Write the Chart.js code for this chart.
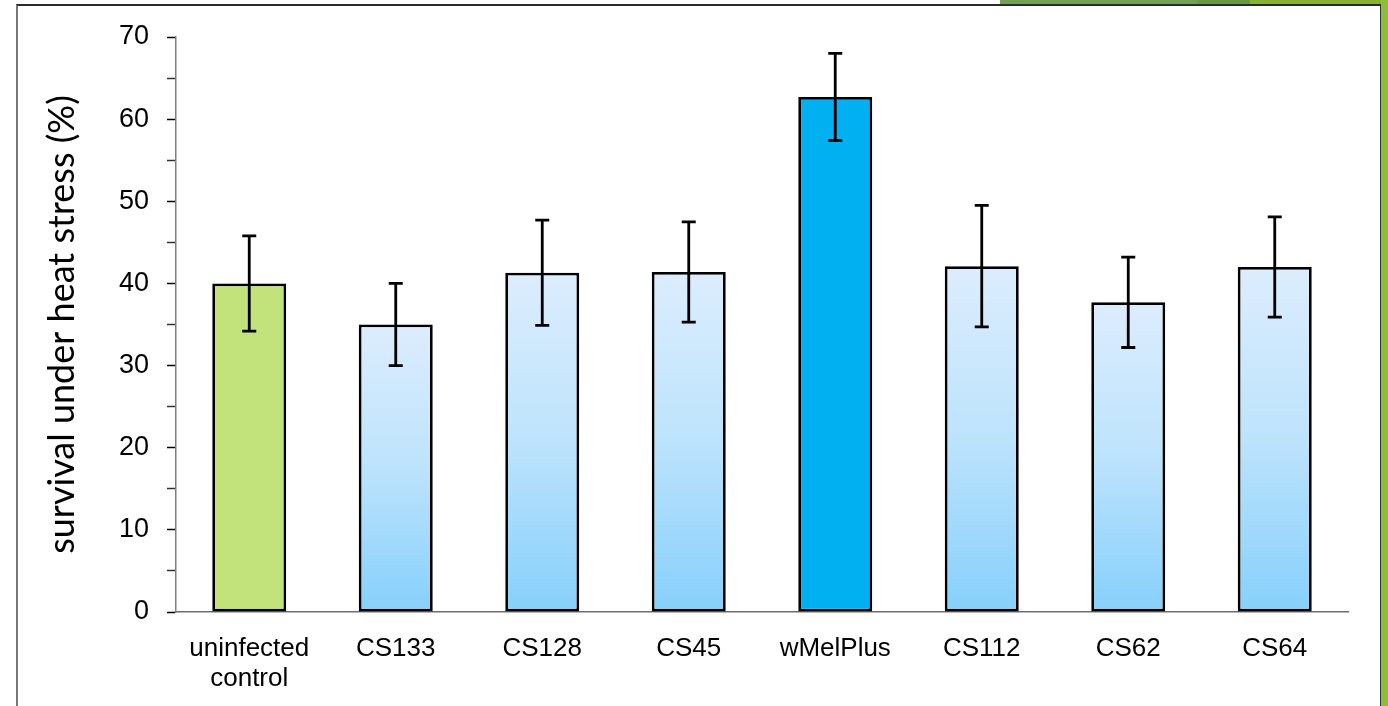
<!DOCTYPE html>
<html>
<head>
<meta charset="utf-8">
<script src="https://cdn.jsdelivr.net/npm/chart.js@4.4.0/dist/chart.umd.min.js"></script>
<style>
  html, body { margin: 0; padding: 0; background: #fff; }
  body { width: 1388px; height: 706px; position: relative; overflow: hidden; }
  .stripeTop { position: absolute; top: 0; height: 5px; }
  #frame { position: absolute; left: 16px; top: 4px; width: 1362px; height: 720px;
           border-left: 2px solid #777; border-top: 2px solid #2b2b2b; border-right: 2px solid #333; }
  #rightStripe { position: absolute; left: 1381px; top: 0; width: 7px; height: 706px; background: #8cbf38; }
  #wrap { position: absolute; left: 0; top: 0; width: 1388px; height: 706px; }
</style>
</head>
<body>
<div class="stripeTop" style="left:1000px;width:197px;background:#73a052"></div>
<div class="stripeTop" style="left:1197px;width:53px;background:#699a40"></div>
<div class="stripeTop" style="left:1250px;width:138px;background:#86b431"></div>
<div id="frame"></div>
<div id="rightStripe"></div>
<div id="wrap"><canvas id="myChart" width="1388" height="706"></canvas></div>
<script>
  const categories = [['uninfected', 'control'], 'CS133', 'CS128', 'CS45', 'wMelPlus', 'CS112', 'CS62', 'CS64'];
  const survival = [40.0, 35.0, 41.3, 41.4, 62.7, 42.1, 37.7, 42.0];
  const errors = [5.8, 5.0, 6.4, 6.1, 5.3, 7.4, 5.5, 6.1];
  const yTicks = [0, 10, 20, 30, 40, 50, 60, 70];

  // bars with a pale-to-sky gradient, others solid
  function barFill(context) {
    const i = context.dataIndex;
    if (i === 0) return '#c2e27b';
    if (i === 4) return '#00b0f0';
    const chart = context.chart;
    const y = chart.scales && chart.scales.y;
    if (!y || !chart.chartArea) return '#bfe4fc';
    const top = y.getPixelForValue(survival[i]);
    const bottom = y.getPixelForValue(0);
    const g = chart.ctx.createLinearGradient(0, top, 0, bottom);
    g.addColorStop(0, '#dcedfd');
    g.addColorStop(0.5, '#bde3fc');
    g.addColorStop(1, '#86d0fb');
    return g;
  }

  const errorBars = {
    id: 'errorBars',
    afterDatasetsDraw(chart) {
      const ctx = chart.ctx;
      const meta = chart.getDatasetMeta(0);
      const y = chart.scales.y;
      ctx.save();
      ctx.strokeStyle = '#000';
      ctx.lineWidth = 2.8;
      meta.data.forEach((bar, i) => {
        const hi = y.getPixelForValue(survival[i] + errors[i]);
        const lo = y.getPixelForValue(survival[i] - errors[i]);
        ctx.beginPath();
        ctx.moveTo(bar.x, hi); ctx.lineTo(bar.x, lo);
        ctx.moveTo(bar.x - 7, hi); ctx.lineTo(bar.x + 7, hi);
        ctx.moveTo(bar.x - 7, lo); ctx.lineTo(bar.x + 7, lo);
        ctx.stroke();
      });
      ctx.restore();
    }
  };

  const ctx = document.getElementById('myChart').getContext('2d');
  const myChart = new Chart(ctx, {
    type: 'bar',
    data: {
      labels: categories,
      datasets: [{
        data: survival,
        backgroundColor: barFill,
        borderColor: '#000',
        borderWidth: 2.8,
        borderSkipped: false,
        barPercentage: 0.505,
        categoryPercentage: 1.0
      }]
    },
    plugins: [errorBars],
    options: {
      responsive: false,
      animation: false,
      layout: { padding: { left: 20, top: 37, right: 40, bottom: 0 } },
      plugins: { legend: { display: false }, tooltip: { enabled: false } },
      scales: {
        x: {
          grid: { display: false },
          border: { color: '#6e6e6e', width: 1.5 },
          ticks: {
            color: '#000',
            font: { family: 'Liberation Sans, Arial', size: 26, lineHeight: 1.15 },
            padding: 14,
            maxRotation: 0,
            autoSkip: false
          },
          afterFit(scale) { scale.height = 94; }
        },
        y: {
          min: 0, max: 70,
          afterBuildTicks(scale) {
            const t = [];
            for (let v = 0; v <= 70; v += 5) t.push({ value: v });
            scale.ticks = t;
          },
          border: { color: '#808080', width: 1.5 },
          grid: {
            drawOnChartArea: false,
            tickLength: 9,
            tickWidth: 1.5,
            tickColor: (c) => (yTicks.includes(c.tick.value) ? '#000' : '#333')
          },
          ticks: {
            color: '#000',
            padding: 18,
            font: { family: 'Liberation Sans, Arial', size: 27 },
            callback: (v) => (yTicks.includes(v) ? v : '')
          },
          title: {
            display: true,
            text: 'survival under heat stress (%)',
            color: '#000',
            font: { family: 'Lato', size: 36 },
            padding: { top: 21, bottom: 0 }
          },
          afterFit(scale) { scale.width = 156; }
        }
      }
    }
  });
</script>
</body>
</html>
